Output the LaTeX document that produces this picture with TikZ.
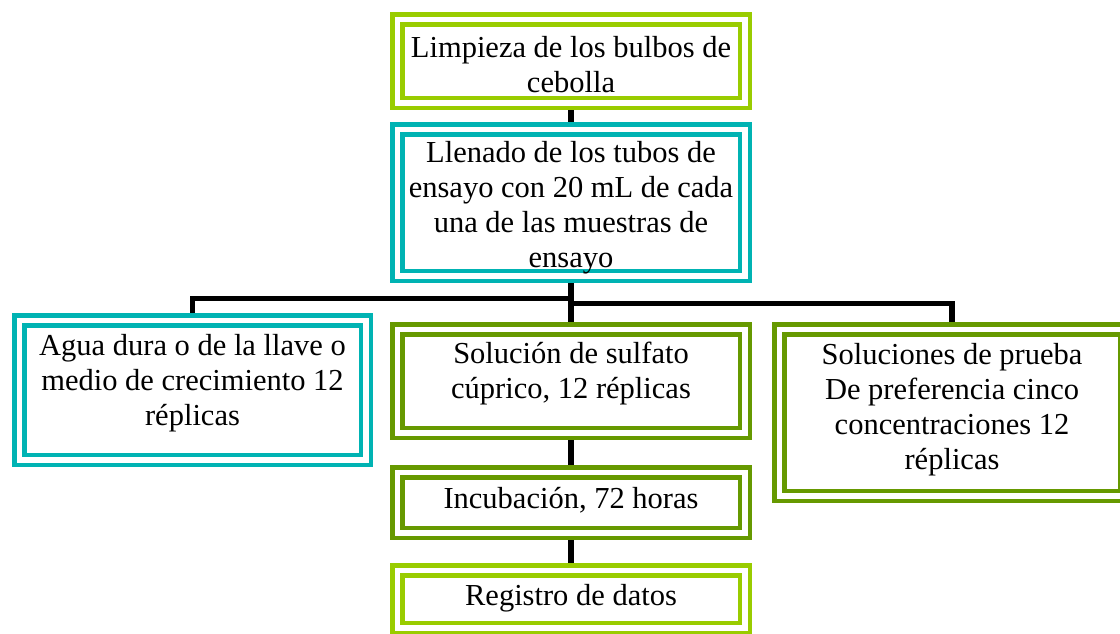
\documentclass[tikz,border=0pt]{standalone}
\usepackage{fontspec}
\setmainfont{Liberation Serif}
\usetikzlibrary{backgrounds}
\definecolor{lgreen}{HTML}{99CC00}
\definecolor{dgreen}{HTML}{669900}
\definecolor{teal1}{HTML}{00B3B3}
\tikzset{
  box/.style={draw=#1, fill=white, double=white, double distance=5.5pt, line width=4.5pt,
    rectangle, inner sep=0pt, outer sep=0pt},
  txt/.style={align=center, inner sep=0pt, font=\fontsize{30.5}{35}\selectfont},
  conn/.style={draw=black, line width=5.5pt}
}
\begin{document}
\begin{tikzpicture}[x=1pt, y=-1pt]
\useasboundingbox (0,0) rectangle (1120,633);
\clip (0,0) rectangle (1120,633);
% boxes
\node[box=lgreen, minimum width=347.5pt, minimum height=83.5pt] (b1) at (571,61) {};
\node[box=teal1, minimum width=347.5pt, minimum height=146.5pt] (b2) at (571,202.5) {};
\node[box=teal1, minimum width=346.5pt, minimum height=139.5pt] (b3) at (192.5,390) {};
\node[box=dgreen, minimum width=347.5pt, minimum height=103.5pt] (b4) at (571,381) {};
\node[box=dgreen, minimum width=345.5pt, minimum height=166.5pt] (b7) at (952,412.5) {};
\node[box=dgreen, minimum width=347.5pt, minimum height=60.5pt] (b5) at (571,502.5) {};
\node[box=lgreen, minimum width=347.5pt, minimum height=57.5pt] (b6) at (571,599) {};
% texts
\node[txt] (t1) at (571,65) {Limpieza de los bulbos de\\cebolla};
\node[txt] (t2) at (571,207.5) {Llenado de los tubos de\\ensayo con 20 mL de cada\\una de las muestras de\\ensayo};
\node[txt] (t3) at (192.5,383) {Agua dura o de la llave o\\medio de crecimiento 12\\réplicas};
\node[txt] (t4) at (571,373.5) {Solución de sulfato\\cúprico, 12 réplicas};
\node[txt] (t7) at (952,409.5) {Soluciones de prueba\\De preferencia cinco\\concentraciones 12\\réplicas};
\node[txt] (t5) at (571,500) {Incubación, 72 horas};
\node[txt] (t6) at (571,598) {Registro de datos};
% connectors
\begin{pgfonlayer}{background}
\draw[conn] (b1.south) -- (b2.north);
\draw[conn] (b2.south) -- (b4.north);
\draw[conn] (b2.south) -- ++(0,22.75) -| (b3.north);
\draw[conn] (b2.south) -- ++(0,27.75) -| (b7.north);
\draw[conn] (b4.south) -- (b5.north);
\draw[conn] (b5.south) -- (b6.north);
\end{pgfonlayer}
\end{tikzpicture}
\end{document}
